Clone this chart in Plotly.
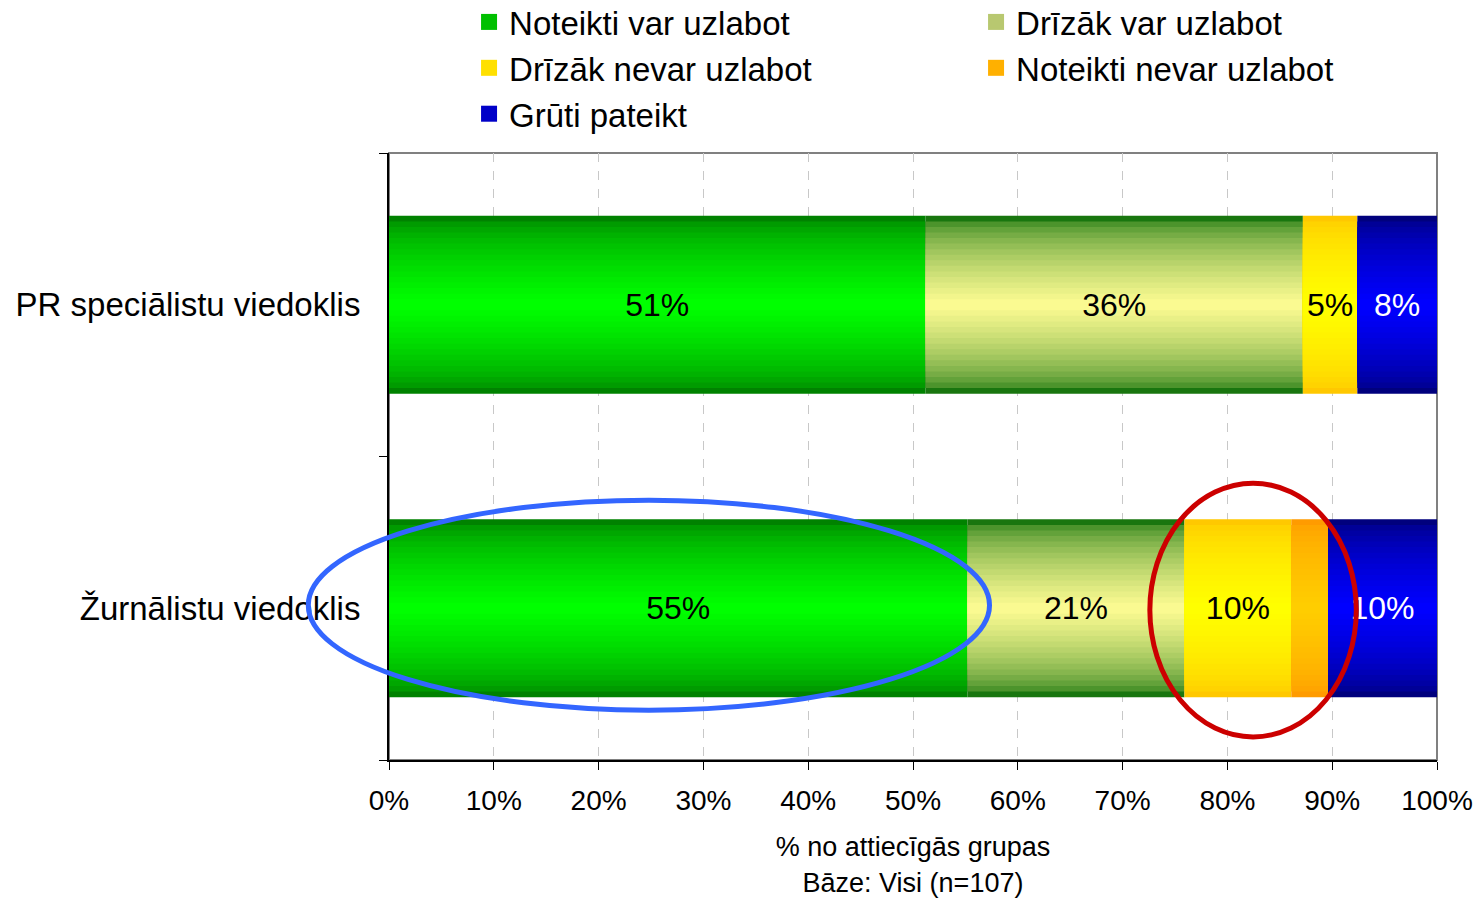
import plotly.graph_objects as go

# ---------------- data ----------------
categories = ["PR speciālistu viedoklis", "Žurnālistu viedoklis"]
series_names = ["Noteikti var uzlabot", "Drīzāk var uzlabot", "Drīzāk nevar uzlabot",
                "Noteikti nevar uzlabot", "Grūti pateikt"]
noteikti_var = [51.2, 55.2]
drizak_var = [36.0, 20.7]
drizak_nevar = [5.2, 10.2]
noteikti_nevar = [0.0, 3.5]
gruti_pateikt = [7.6, 10.4]
labels_noteikti_var = ["51%", "55%"]
labels_drizak_var = ["36%", "21%"]
labels_drizak_nevar = ["5%", "10%"]
labels_noteikti_nevar = ["", ""]
labels_gruti_pateikt = ["8%", "10%"]
x_tick_vals = [0, 10, 20, 30, 40, 50, 60, 70, 80, 90, 100]
x_tick_text = ["0%", "10%", "20%", "30%", "40%", "50%", "60%", "70%", "80%", "90%", "100%"]
x_title = "% no attiecīgās grupas<br>Bāze: Visi (n=107)"

series_values = [noteikti_var, drizak_var, drizak_nevar, noteikti_nevar, gruti_pateikt]
series_labels = [labels_noteikti_var, labels_drizak_var, labels_drizak_nevar,
                 labels_noteikti_nevar, labels_gruti_pateikt]

# ---------------- styles ----------------
edge_colors = [(0, 130, 0), (25, 118, 15), (255, 200, 0), (255, 155, 0), (0, 0, 125)]
center_colors = [(0, 255, 0), (250, 250, 145), (255, 255, 0), (255, 205, 0), (0, 0, 255)]
gammas = [0.6, 0.55, 0.6, 0.6, 0.6]
text_colors = ["black", "black", "black", "black", "white"]
legend_colors = ["#00C000", "#B8C870", "#FFE000", "#FFB000", "#0000C8"]
FONT = "Arial, Liberation Sans, sans-serif"
BAR_W = 0.586
N_LEVELS = 16


def mix(c0, c1, t):
    return "rgb(%d,%d,%d)" % tuple(round(a + (b - a) * t) for a, b in zip(c0, c1))


fig = go.Figure()

# cumulative bases
bases = []
running = [0.0] * len(categories)
for vals in series_values:
    bases.append(list(running))
    running = [r + v for r, v in zip(running, vals)]

# gradient bars via layered widths
for s, name in enumerate(series_names):
    vals = series_values[s]
    for k in range(N_LEVELS):
        t = min(1.0, (k / (N_LEVELS - 1)) ** gammas[s])
        w = BAR_W * (1 - k / N_LEVELS)
        fig.add_trace(go.Bar(
            y=categories, x=vals, base=bases[s], orientation="h",
            width=w, name=name,
            marker=dict(color=mix(edge_colors[s], center_colors[s], t), line=dict(width=0)),
            showlegend=False, hoverinfo="skip", legendgroup=name,
        ))

# labels (transparent top bars)
for s, name in enumerate(series_names):
    fig.add_trace(go.Bar(
        y=categories, x=series_values[s], base=bases[s], orientation="h",
        width=BAR_W, name=name, legendgroup=name,
        marker=dict(color="rgba(0,0,0,0)", line=dict(width=0)),
        text=series_labels[s], textposition="inside", insidetextanchor="middle",
        textfont=dict(size=32, color=text_colors[s], family=FONT),
        showlegend=False, hoverinfo="skip",
    ))

# legend-only traces
for s, name in enumerate(series_names):
    fig.add_trace(go.Scatter(
        y=[None], x=[None], mode="markers", name=name, legendgroup=name,
        marker=dict(color=legend_colors[s], symbol="square", size=16, line=dict(width=0)),
        showlegend=True,
    ))

fig.update_layout(
    width=1482, height=902,
    margin=dict(l=389, r=45, t=153, b=142, autoexpand=False),
    barmode="overlay",
    plot_bgcolor="white", paper_bgcolor="white",
    font=dict(family=FONT, color="black"),
    showlegend=True,
    legend=dict(
        orientation="h", xref="container", yref="paper",
        x=0.3165, xanchor="left", y=1.262, yanchor="top",
        font=dict(size=33, color="black", family=FONT),
        entrywidth=462, entrywidthmode="pixels",
        traceorder="normal", bgcolor="rgba(0,0,0,0)", itemsizing="trace",
    ),
    xaxis=dict(
        range=[0, 100], tickvals=x_tick_vals, ticktext=x_tick_text,
        tickfont=dict(size=28, family=FONT), ticks="outside", ticklen=8,
        tickcolor="black", showline=True, linecolor="black", linewidth=2,
        showgrid=True, gridcolor="#C8C8C8", griddash="dash", gridwidth=1,
        zeroline=False, ticklabelstandoff=6, automargin=False,
        title=dict(text=x_title, font=dict(size=27, family=FONT), standoff=23),
    ),
    yaxis=dict(
        categoryorder="array", categoryarray=categories[::-1],
        range=[-0.5, 1.5], tickson="boundaries", ticks="outside", ticklen=8,
        tickcolor="black", showline=True, linecolor="black", linewidth=2,
        tickfont=dict(size=33, family=FONT), showgrid=False, zeroline=False,
        ticklabelstandoff=20, automargin=False,
    ),
    shapes=[
        dict(type="rect", xref="paper", yref="paper", x0=0, x1=1, y0=0, y1=1,
             line=dict(color="#808080", width=2), layer="below"),
        dict(type="circle", xref="paper", yref="paper", x0=-0.077, x1=0.573,
             y0=0.082, y1=0.428, line=dict(color="#3366FF", width=5), layer="above"),
        dict(type="circle", xref="paper", yref="paper", x0=0.726, x1=0.923,
             y0=0.038, y1=0.456, line=dict(color="#CC0000", width=5), layer="above"),
    ],
)

fig.write_html("out.html")
